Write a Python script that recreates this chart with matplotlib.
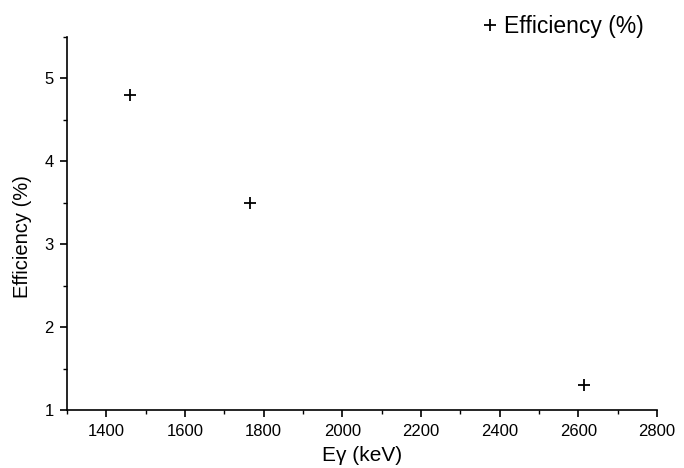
import matplotlib
matplotlib.use('Agg')
import matplotlib.pyplot as plt
from matplotlib.ticker import MultipleLocator

plt.rcParams['font.family'] = ['Liberation Sans', 'DejaVu Sans']

# gamma line energies (keV) and detector efficiency
energy = [1460, 1764, 2614]
efficiency = [4.8, 3.5, 1.3]

fig = plt.figure(figsize=(6.84, 4.68), dpi=100)
ax = fig.add_axes([0.098, 0.124, 0.8625, 0.797])

ax.plot(energy, efficiency, linestyle='none', marker='+', color='black',
        markersize=9, markeredgewidth=1.3, label='Efficiency (%)')

ax.set_xlim(1300, 2800)
ax.set_ylim(1, 5.5)
ax.xaxis.set_major_locator(MultipleLocator(200))
ax.xaxis.set_minor_locator(MultipleLocator(100))
ax.yaxis.set_major_locator(MultipleLocator(1))
ax.yaxis.set_minor_locator(MultipleLocator(0.5))

for s in ['top', 'right']:
    ax.spines[s].set_visible(False)
for s in ['left', 'bottom']:
    ax.spines[s].set_linewidth(1.2)

ax.tick_params(which='major', direction='out', length=5, width=1.2, labelsize=12, pad=4.5)
ax.tick_params(which='minor', direction='out', length=3, width=1.0)
ax.tick_params(axis='x', which='major', pad=5)

ax.set_xlabel('E\u03b3 (keV)', fontsize=15)
ax.xaxis.set_label_coords(0.5, -0.097)
ax.set_ylabel('Efficiency (%)', fontsize=14.5)
ax.yaxis.set_label_coords(-0.059, 0.466)

fig.legend(loc='upper right', bbox_to_anchor=(0.964, 1.003), frameon=False,
           fontsize=16.5, handlelength=0.6, handletextpad=0.3, borderpad=0.2)

plt.savefig('out.png', dpi=100)
